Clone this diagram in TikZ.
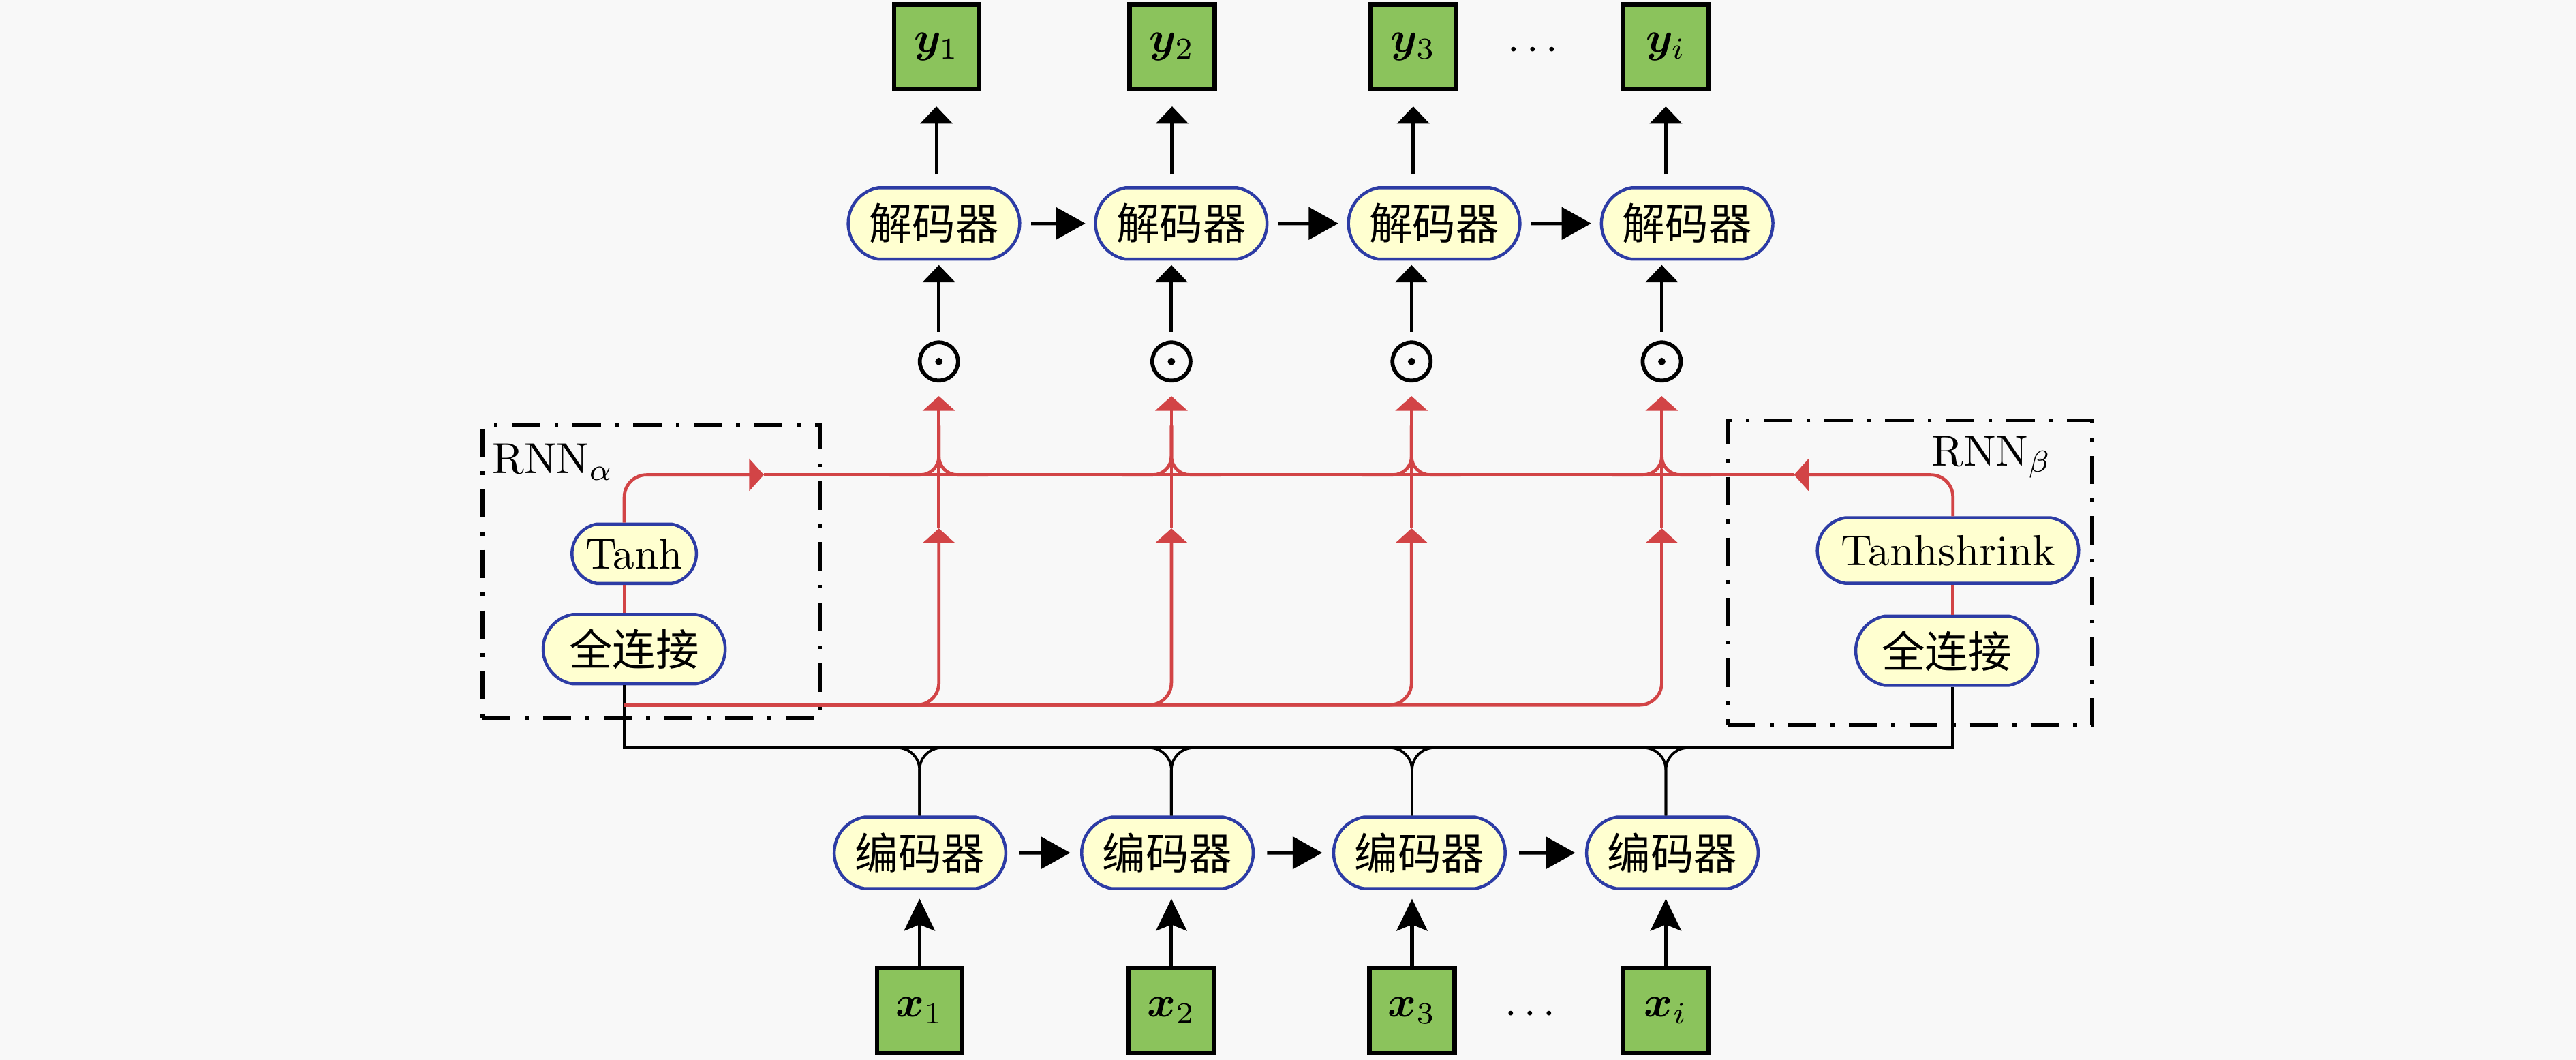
\documentclass[tikz,border=0pt]{standalone}
\usepackage{fontspec}
\newfontfamily\cjk{Noto Sans CJK SC}
\usepackage{amsmath}
\usepackage{bm}
\usetikzlibrary{arrows.meta,shapes.misc,positioning}
\definecolor{bggray}{RGB}{248,248,248}
\definecolor{boxgreen}{RGB}{139,195,92}
\definecolor{nodefill}{RGB}{255,255,208}
\definecolor{nodeblue}{RGB}{45,60,165}
\definecolor{linered}{RGB}{210,68,70}
\tikzset{
    coder/.style={rounded rectangle, rounded rectangle arc length=160, draw=nodeblue, fill=nodefill,
        line width=0.7pt, minimum width=1.33cm, minimum height=0.58cm, inner xsep=0.12cm, font=\cjk},
    act/.style={coder, minimum height=0.44cm, inner xsep=0.16cm, font=\normalfont},
    fc/.style={act, font=\cjk},
    vecbox/.style={draw=black, fill=boxgreen, line width=1pt, minimum size=0.69cm, inner sep=0pt},
    dotnode/.style={circle, draw, line width=0.9pt, minimum size=0.31cm, inner sep=0pt,
        path picture={\fill (path picture bounding box.center) circle (0.85pt);}},
    rnnbox/.style={draw, line width=0.9pt, dash pattern=on 6.5pt off 3.3pt on 0.9pt off 3.3pt},
    redline/.style={draw=linered, line width=0.75pt},
    up/.style={-{Triangle[width=0.26cm,length=0.14cm]}},
    side/.style={-{Triangle[width=0.26cm,length=0.24cm]}},
    redup/.style={-{Triangle[width=0.26cm,length=0.12cm]}},
    inarr/.style={-{Stealth[width=0.25cm,length=0.26cm,inset=0.05cm]}}
}

\begin{document}
\begin{tikzpicture}[line width=0.8pt]

    % Background
    \fill[bggray] (0,0) rectangle (20.907,8.6);
    \useasboundingbox (0,0) rectangle (20.907,8.6);

    % Outputs
    \node[vecbox] (y1) at (7.60,8.219) {$\bm{y}_1$};
    \node[vecbox] (y2) at (9.513,8.219) {$\bm{y}_2$};
    \node[vecbox] (y3) at (11.47,8.219) {$\bm{y}_3$};
    \node[vecbox] (yi) at (13.52,8.219) {$\bm{y}_i$};
    \node (ydots) at (12.47,8.19) {$\cdots$};

    % Decoders
    \node[coder] (dec1) at (7.58,6.787) {解码器};
    \node[coder] (dec2) at (9.587,6.787) {解码器};
    \node[coder] (dec3) at (11.64,6.787) {解码器};
    \node[coder] (dec4) at (13.693,6.787) {解码器};

    % Products
    \node[dotnode] (o1) at (7.62,5.667) {};
    \node[dotnode] (o2) at (9.507,5.667) {};
    \node[dotnode] (o3) at (11.456,5.667) {};
    \node[dotnode] (o4) at (13.487,5.667) {};

    % Encoders
    \node[coder] (enc1) at (7.467,1.68) {编码器};
    \node[coder] (enc2) at (9.475,1.68) {编码器};
    \node[coder] (enc3) at (11.52,1.68) {编码器};
    \node[coder] (enc4) at (13.573,1.68) {编码器};

    % Inputs
    \node[vecbox] (x1) at (7.463,0.4) {$\bm{x}_1$};
    \node[vecbox] (x2) at (9.507,0.4) {$\bm{x}_2$};
    \node[vecbox] (x3) at (11.46,0.4) {$\bm{x}_3$};
    \node[vecbox] (xi) at (13.52,0.4) {$\bm{x}_i$};
    \node (xdots) at (12.45,0.37) {$\cdots$};

    % RNN alpha
    \node[rnnbox, minimum width=2.737cm, minimum height=2.374cm] (rnnA) at (5.285,3.96) {};
    \node[anchor=north west, inner xsep=0.08cm, inner ysep=0.15cm] (rnnAtxt) at (rnnA.north west) {RNN$_\alpha$};
    \node[act] (tanhA) at (5.147,4.107) {Tanh};
    \node[fc] (fcA) at (5.147,3.333) {全连接};

    % RNN beta
    \node[rnnbox, minimum width=2.96cm, minimum height=2.477cm] (rnnB) at (15.5,3.952) {};
    \node[anchor=north east, inner xsep=0.33cm, inner ysep=0.13cm] (rnnBtxt) at (rnnB.north east) {RNN$_\beta$};
    \node[act, minimum height=0.53cm] (tanhB) at (15.81,4.133) {Tanhshrink};
    \node[fc] (fcB) at (15.80,3.32) {全连接};

    % Levels
    \coordinate (lineA) at (5.067,0);
    \coordinate (lineB) at (15.85,0);
    \coordinate (redtop) at (0,4.747);
    \coordinate (redmid) at (0,4.313);
    \coordinate (redlow) at (0,2.88);
    \coordinate (bus) at (0,2.533);
    \coordinate (arrA) at (6.2,4.747);
    \coordinate (arrB) at (14.56,4.747);

    % Decoder edges
    \draw[up, shorten <=0.1cm, shorten >=0.12cm] (dec1.north -| y1) -- (y1.south);
    \draw[up, shorten <=0.1cm, shorten >=0.12cm] (dec2.north -| y2) -- (y2.south);
    \draw[up, shorten <=0.1cm, shorten >=0.12cm] (dec3.north -| y3) -- (y3.south);
    \draw[up, shorten <=0.1cm, shorten >=0.12cm] (dec4.north -| yi) -- (yi.south);
    \draw[side, shorten <=0.08cm, shorten >=0.07cm] (dec1) -- (dec2);
    \draw[side, shorten <=0.08cm, shorten >=0.07cm] (dec2) -- (dec3);
    \draw[side, shorten <=0.08cm, shorten >=0.07cm] (dec3) -- (dec4);
    \draw[up, shorten <=0.07cm, shorten >=0.035cm] (o1) -- (o1 |- dec1.south);
    \draw[up, shorten <=0.07cm, shorten >=0.035cm] (o2) -- (o2 |- dec2.south);
    \draw[up, shorten <=0.07cm, shorten >=0.035cm] (o3) -- (o3 |- dec3.south);
    \draw[up, shorten <=0.07cm, shorten >=0.035cm] (o4) -- (o4 |- dec4.south);

    % Encoder edges
    \draw[inarr, shorten >=0.07cm] (x1) -- (x1 |- enc1.south);
    \draw[inarr, shorten >=0.07cm] (x2) -- (x2 |- enc2.south);
    \draw[inarr, shorten >=0.07cm] (x3) -- (x3 |- enc3.south);
    \draw[inarr, shorten >=0.07cm] (xi) -- (xi |- enc4.south);
    \draw[side, shorten <=0.1cm, shorten >=0.08cm] (enc1) -- (enc2);
    \draw[side, shorten <=0.1cm, shorten >=0.08cm] (enc2) -- (enc3);
    \draw[side, shorten <=0.1cm, shorten >=0.08cm] (enc3) -- (enc4);

    % Bus
    \draw (lineA |- fcA.south) -- (lineA |- bus) -- (lineB |- bus) -- (lineB |- fcB.south);
    \draw[line width=0.6pt, rounded corners=0.18cm] (x1 |- bus) ++(-0.4,0) -| (x1 |- enc1.north);
    \draw[line width=0.6pt, rounded corners=0.18cm] (x1 |- bus) ++(0.4,0) -| (x1 |- enc1.north);
    \draw[line width=0.6pt, rounded corners=0.18cm] (x2 |- bus) ++(-0.4,0) -| (x2 |- enc2.north);
    \draw[line width=0.6pt, rounded corners=0.18cm] (x2 |- bus) ++(0.4,0) -| (x2 |- enc2.north);
    \draw[line width=0.6pt, rounded corners=0.18cm] (x3 |- bus) ++(-0.4,0) -| (x3 |- enc3.north);
    \draw[line width=0.6pt, rounded corners=0.18cm] (x3 |- bus) ++(0.4,0) -| (x3 |- enc3.north);
    \draw[line width=0.6pt, rounded corners=0.18cm] (xi |- bus) ++(-0.4,0) -| (xi |- enc4.north);
    \draw[line width=0.6pt, rounded corners=0.18cm] (xi |- bus) ++(0.4,0) -| (xi |- enc4.north);

    % Attention lines
    \draw[redline] (lineA |- fcA.north) -- (lineA |- tanhA.south);
    \draw[redline] (lineB |- fcB.north) -- (lineB |- tanhB.south);
    \draw[redline, redup, rounded corners=0.18cm] (lineA |- tanhA.north) |- (arrA);
    \draw[redline, redup, rounded corners=0.18cm] (lineB |- tanhB.north) |- (arrB);
    \draw[redline] (arrA) -- (arrB);

    \draw[redline, redup, rounded corners=0.18cm] (lineA |- redlow) -| (o1 |- redmid);
    \draw[redline, redup, rounded corners=0.18cm] (lineA |- redlow) -| (o2 |- redmid);
    \draw[redline, redup, rounded corners=0.18cm] (lineA |- redlow) -| (o3 |- redmid);
    \draw[redline, redup, rounded corners=0.18cm] (lineA |- redlow) -| (o4 |- redmid);

    \draw[redline, redup, shorten >=0.11cm] (o1 |- redmid) -- (o1);
    \draw[redline, redup, shorten >=0.11cm] (o2 |- redmid) -- (o2);
    \draw[redline, redup, shorten >=0.11cm] (o3 |- redmid) -- (o3);
    \draw[redline, redup, shorten >=0.11cm] (o4 |- redmid) -- (o4);

    \draw[redline, rounded corners=0.15cm] (o1 |- redtop) ++(-0.4,0) -| ++(0.4,0.4);
    \draw[redline, rounded corners=0.15cm] (o1 |- redtop) ++(0.4,0) -| ++(-0.4,0.4);
    \draw[redline, rounded corners=0.15cm] (o2 |- redtop) ++(-0.4,0) -| ++(0.4,0.4);
    \draw[redline, rounded corners=0.15cm] (o2 |- redtop) ++(0.4,0) -| ++(-0.4,0.4);
    \draw[redline, rounded corners=0.15cm] (o3 |- redtop) ++(-0.4,0) -| ++(0.4,0.4);
    \draw[redline, rounded corners=0.15cm] (o3 |- redtop) ++(0.4,0) -| ++(-0.4,0.4);
    \draw[redline, rounded corners=0.15cm] (o4 |- redtop) ++(-0.4,0) -| ++(0.4,0.4);
    \draw[redline, rounded corners=0.15cm] (o4 |- redtop) ++(0.4,0) -| ++(-0.4,0.4);

\end{tikzpicture}
\end{document}
